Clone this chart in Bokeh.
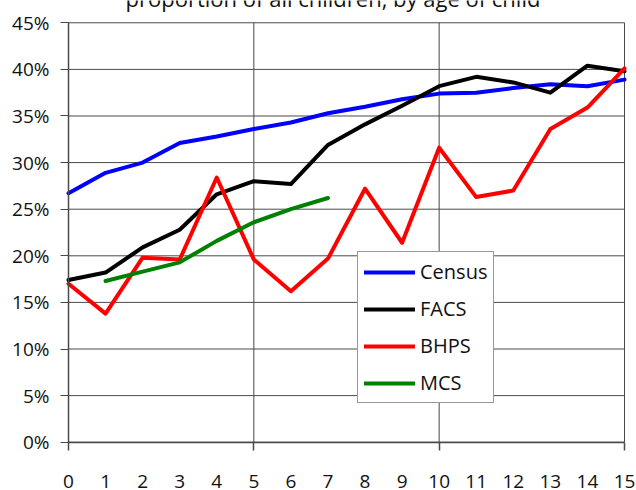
from bokeh.plotting import figure
from bokeh.models import Range1d, FixedTicker, PrintfTickFormatter, Legend, LegendItem, Label
from bokeh.embed import file_html
from bokeh.resources import INLINE

title_text = "proportion of all children, by age of child"
ages = list(range(16))
census = [26.7, 28.9, 30.0, 32.1, 32.8, 33.6, 34.3, 35.3, 36.0, 36.8, 37.4, 37.5, 38.0, 38.4, 38.2, 38.9]
facs = [17.4, 18.2, 20.9, 22.8, 26.6, 28.0, 27.7, 31.9, 34.1, 36.1, 38.2, 39.2, 38.6, 37.5, 40.4, 39.8]
bhps = [17.0, 13.8, 19.8, 19.6, 28.4, 19.6, 16.2, 19.7, 27.2, 21.4, 31.6, 26.3, 27.0, 33.6, 35.9, 40.1]
mcs_ages = [1, 2, 3, 4, 5, 6, 7]
mcs = [17.3, 18.3, 19.3, 21.6, 23.6, 25.0, 26.2]
y_ticks = [0, 5, 10, 15, 20, 25, 30, 35, 40, 45]
x_major_marks = [0, 5, 10, 15]
x_grid = [5, 10, 15]

FONT = "Open Sans"
GRID = "#4a4a4a"

p = figure(width=636, height=490, output_backend="svg", toolbar_location=None,
           x_range=Range1d(-1.8345, 15.3237), y_range=Range1d(-5.18, 47.39),
           min_border_left=0, min_border_top=0, min_border_right=0, min_border_bottom=0)
p.background_fill_color = "white"
p.border_fill_color = "white"
p.outline_line_color = None
p.xgrid.visible = False
p.ygrid.visible = False

# grid lines (drawn from tick arrays)
p.segment(x0=[ages[0]] * len(y_ticks), y0=y_ticks, x1=[ages[-1]] * len(y_ticks), y1=y_ticks,
          line_color=GRID, line_width=1)
p.segment(x0=x_grid, y0=[y_ticks[0]] * len(x_grid), x1=x_grid, y1=[y_ticks[-1]] * len(x_grid),
          line_color=GRID, line_width=1)

# y axis, fixed at x=0 inside the frame
p.yaxis.fixed_location = 0
p.yaxis.ticker = FixedTicker(ticks=y_ticks)
p.yaxis.formatter = PrintfTickFormatter(format="%d%%")
p.yaxis.bounds = (y_ticks[0], y_ticks[-1])
p.yaxis.major_tick_out = 8
p.yaxis.major_tick_in = 0
p.yaxis.minor_tick_line_color = None
p.yaxis.major_label_standoff = 11
p.yaxis.major_tick_line_color = GRID

# x axis, fixed at 0 inside the frame
p.xaxis.fixed_location = 0
p.xaxis.bounds = (ages[0], ages[-1])
p.xaxis.ticker = FixedTicker(ticks=ages, minor_ticks=x_major_marks)
p.xaxis.major_tick_out = 0
p.xaxis.major_tick_in = 0
p.xaxis.major_tick_line_color = None
p.xaxis.minor_tick_out = 8
p.xaxis.minor_tick_in = 0
p.xaxis.minor_tick_line_color = GRID
p.xaxis.minor_tick_line_width = 1.5
p.xaxis.major_label_standoff = 25

for ax in (p.xaxis, p.yaxis):
    ax.axis_line_color = GRID
    ax.axis_line_width = 1.5
    ax.major_label_text_font = FONT
    ax.major_label_text_font_size = "19px"
    ax.major_label_text_color = "#111111"

r1 = p.line(ages, census, line_color="#0000FF", line_width=4, line_join="round", line_cap="round")
r2 = p.line(ages, facs, line_color="#000000", line_width=4, line_join="round", line_cap="round")
r3 = p.line(ages, bhps, line_color="#FF0000", line_width=4, line_join="round", line_cap="round")
r4 = p.line(mcs_ages, mcs, line_color="#008000", line_width=4, line_join="round", line_cap="round")

legend = Legend(items=[LegendItem(label="Census", renderers=[r1]),
                       LegendItem(label="FACS", renderers=[r2]),
                       LegendItem(label="BHPS", renderers=[r3]),
                       LegendItem(label="MCS", renderers=[r4])],
                location=(357, 87), orientation="vertical",
                glyph_width=51, glyph_height=20, label_height=20, spacing=10,
                padding=6, margin=0, label_standoff=5,
                label_text_font=FONT, label_text_font_size="20px", label_text_color="#111111",
                border_line_color="#333333", border_line_width=1,
                background_fill_color="white", background_fill_alpha=1)
p.add_layout(legend, "center")

title = Label(x=7.136, y=47.71, text=title_text, text_align="center", text_baseline="alphabetic",
              text_font=FONT, text_font_size="22px", text_color="#111111")
p.add_layout(title)

open("out.html", "w").write(file_html(p, INLINE))
